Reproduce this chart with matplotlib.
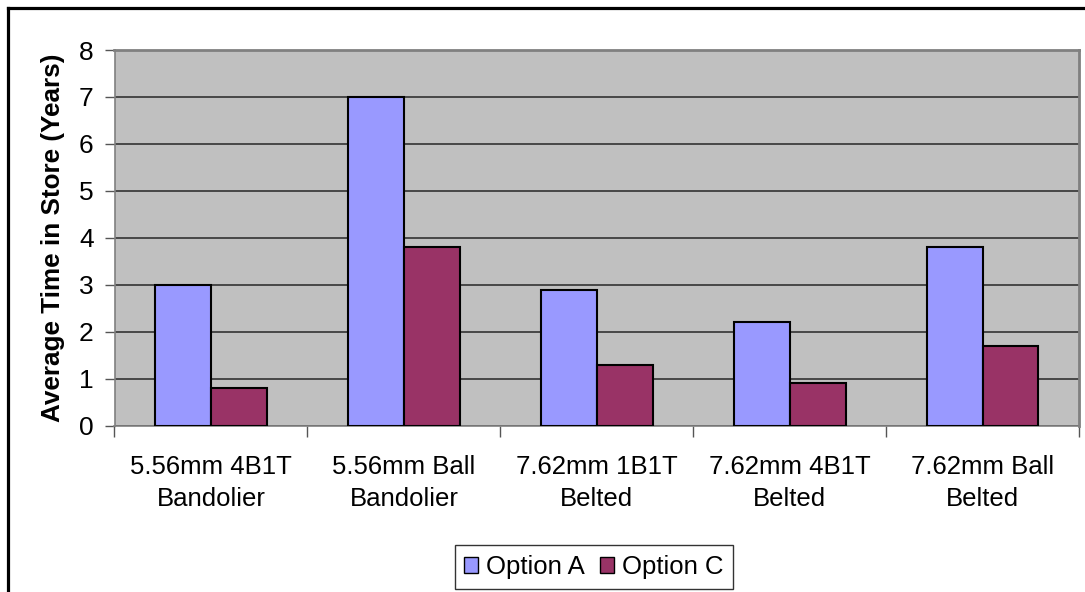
import matplotlib
matplotlib.use("Agg")
import matplotlib.pyplot as plt
import numpy as np
from matplotlib.lines import Line2D
from matplotlib.patches import Patch

categories = ["5.56mm 4B1T\nBandolier", "5.56mm Ball\nBandolier", "7.62mm 1B1T\nBelted",
              "7.62mm 4B1T\nBelted", "7.62mm Ball\nBelted"]
option_a = [3.0, 7.0, 2.9, 2.2, 3.8]
option_c = [0.8, 3.8, 1.3, 0.9, 1.7]
series_names = ["Option A", "Option C"]
y_ticks = [0, 1, 2, 3, 4, 5, 6, 7, 8]

plt.rcParams['font.family'] = ['Liberation Sans', 'DejaVu Sans']

W, H = 1085, 592
fig = plt.figure(figsize=(W / 100, H / 100), dpi=100)
ax = fig.add_axes([114.5 / W, 1 - 425.7 / H, (1079 - 114.5) / W, (425.7 - 50) / H])

x = np.arange(len(categories))
bw = 0.29
ax.bar(x - bw / 2, option_a, bw, color="#9999FF", edgecolor="black", linewidth=1.5, zorder=3, label=series_names[0])
ax.bar(x + bw / 2, option_c, bw, color="#993366", edgecolor="black", linewidth=1.5, zorder=3, label=series_names[1])

ax.set_facecolor("#C0C0C0")
ax.set_xlim(-0.5, len(categories) - 0.5)
ax.set_ylim(0, 8)
ax.set_yticks(y_ticks)
ax.set_yticklabels([str(t) for t in y_ticks], fontsize=19)
ax.yaxis.grid(True, color="#333333", linewidth=1.2, zorder=0)
ax.set_axisbelow(True)

ax.set_xticks(np.arange(-0.5, len(categories), 1.0))
ax.set_xticklabels([])
ax.set_xticks(x, minor=True)
ax.set_xticklabels(categories, minor=True, fontsize=18.5, linespacing=1.42)
ax.tick_params(axis='x', which='major', length=8, width=1, color="#555555", direction='out')
ax.tick_params(axis='x', which='minor', length=0, pad=21)
ax.tick_params(axis='y', length=7, width=1, color="#555555", pad=8)

for side in ["top", "right"]:
    ax.spines[side].set_color("#808080")
    ax.spines[side].set_linewidth(2)
ax.spines["left"].set_color("#808080")
ax.spines["left"].set_linewidth(1.2)
ax.spines["bottom"].set_color("#808080")
ax.spines["bottom"].set_linewidth(1.2)

ax.set_ylabel("Average Time in Store (Years)", fontsize=18.8, fontweight="bold", labelpad=10)

handles = [Patch(facecolor="#9999FF", edgecolor="black", linewidth=1.0),
           Patch(facecolor="#993366", edgecolor="black", linewidth=1.0)]
leg = fig.legend(handles, series_names, loc="center", bbox_to_anchor=(594 / W, 1 - 567 / H),
                 ncol=2, fontsize=18.5, frameon=True, fancybox=False, handlelength=0.55,
                 handleheight=0.55, handletextpad=0.3, columnspacing=0.6, borderpad=0.38)
leg.get_frame().set_edgecolor("black")
leg.get_frame().set_linewidth(1.0)

# outer chart border (top and left visible)
fig.add_artist(Line2D([8 / W, 1.0], [1 - 8 / H, 1 - 8 / H], transform=fig.transFigure, color="black", linewidth=2.3))
fig.add_artist(Line2D([8 / W, 8 / W], [1 - 8 / H, 0.0], transform=fig.transFigure, color="black", linewidth=2.3))

fig.savefig("out.png", dpi=100)
